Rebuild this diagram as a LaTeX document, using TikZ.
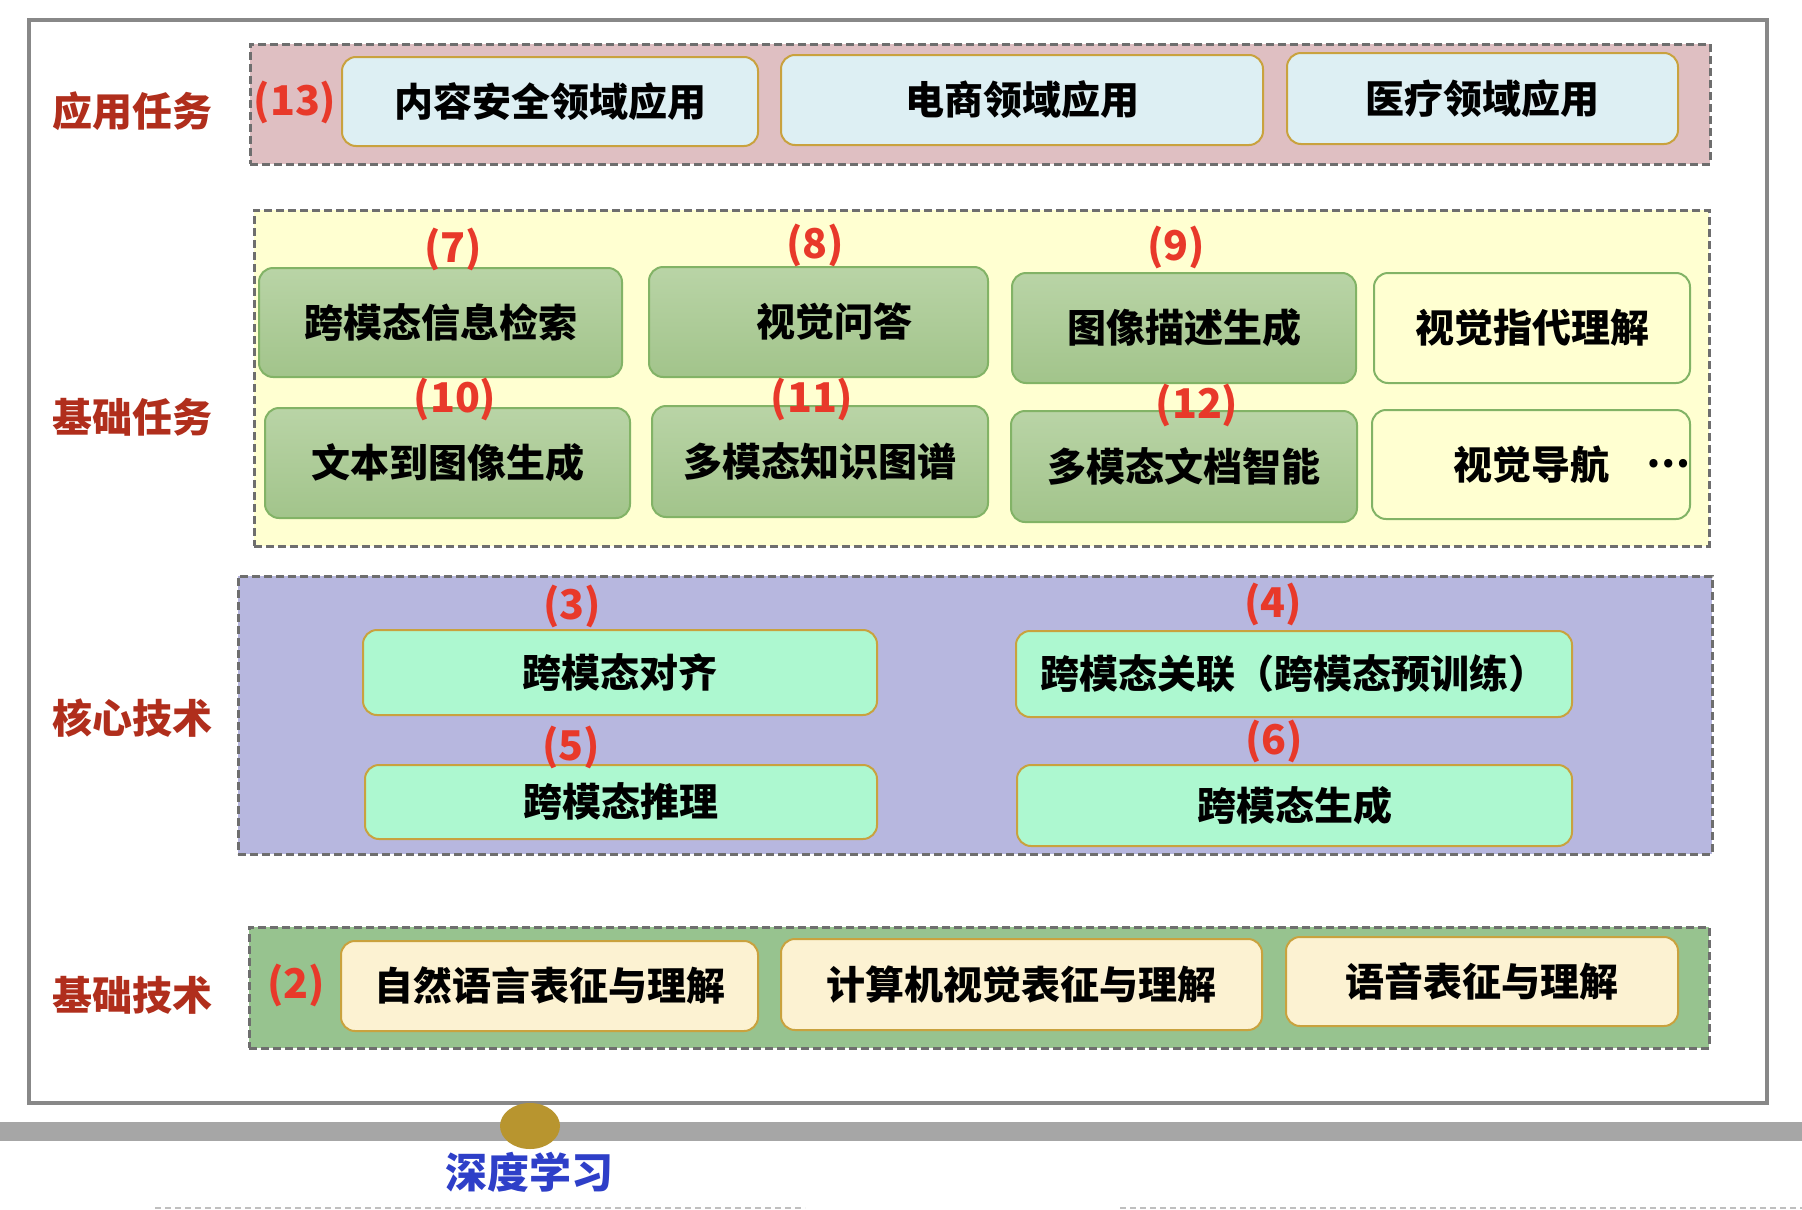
\documentclass[tikz,border=0pt]{standalone}
\usepackage{fontspec}
\setmainfont{Noto Sans CJK SC}
\definecolor{framegray}{HTML}{888888}
\definecolor{dashgray}{HTML}{6E6E6E}
\definecolor{rose}{HTML}{DFBFC2}
\definecolor{ice}{HTML}{DDEFF3}
\definecolor{brass}{HTML}{C9A23E}
\definecolor{cream}{HTML}{FFFFD1}
\definecolor{sagetop}{HTML}{B9D4A6}
\definecolor{sagebot}{HTML}{A2C48B}
\definecolor{leaf}{HTML}{82B366}
\definecolor{lilac}{HTML}{B7B7DF}
\definecolor{mint}{HTML}{ADF8D0}
\definecolor{moss}{HTML}{97C38F}
\definecolor{wheat}{HTML}{FCF2D2}
\definecolor{brick}{HTML}{B02E1C}
\definecolor{scarlet}{HTML}{E8392A}
\definecolor{royal}{HTML}{2E3FC8}
\definecolor{bargray}{HTML}{A6A6A6}
\definecolor{olive}{HTML}{B8952F}
\newcommand\bxfont{\fontsize{39}{43}\selectfont\bfseries}
\newcommand\lbfont{\fontsize{40}{44}\selectfont\bfseries}

\begin{document}
\begin{tikzpicture}[x=1pt, y=-1pt,
    wh/.style n args={2}{minimum width=#1pt, minimum height=#2pt},
    layer/.style={draw=dashgray, line width=3pt, dash pattern=on 8pt off 4pt, inner sep=0pt},
    box/.style={rounded corners=14pt, line width=2pt, inner sep=0pt, font=\bxfont},
    appbox/.style={box, draw=brass, fill=ice},
    taskbox/.style={box, draw=leaf, top color=sagetop, bottom color=sagebot},
    plainbox/.style={box, draw=leaf, fill=cream},
    corebox/.style={box, draw=brass, fill=mint},
    basebox/.style={box, draw=brass, fill=wheat},
    side/.style={text=brick, font=\lbfont},
    num/.style={text=scarlet, font=\fontsize{41}{44}\selectfont\bfseries, inner sep=0pt}]
  \useasboundingbox (0,0) rectangle (1802,1210);
  \fill[white] (0,0) rectangle (1802,1210);
  \draw[framegray, line width=4pt] (29,20) rectangle (1767,1103);

  \node[side] (s1) at (132,111) {应用任务};
  \node[side] (s2) at (132,417) {基础任务};
  \node[side] (s3) at (132,718) {核心技术};
  \node[side] (s4) at (132,995) {基础技术};

  \node[layer, fill=rose, wh={1460}{120}] (l1) at (980,104) {};
  \node[num] (n13) at (295,102) {(13)};
  \node[appbox, wh={416}{89}] (a1) at (550,101.5) {内容安全领域应用};
  \node[appbox, wh={482}{90}] (a2) at (1022,100) {电商领域应用};
  \node[appbox, wh={391}{91}] (a3) at (1482.5,98.5) {医疗领域应用};

  \node[layer, fill=cream, wh={1455}{336}] (l2) at (981.5,378) {};
  \node[taskbox, wh={363}{109}] (b1) at (440.5,322.5) {跨模态信息检索};
  \node[taskbox, wh={339}{110}] (b2) at (818.5,322) {\hspace*{32pt}视觉问答};
  \node[taskbox, wh={344}{110}] (b3) at (1184,328) {图像描述生成};
  \node[plainbox, wh={316}{110}] (b4) at (1532,328) {视觉指代理解};
  \node[taskbox, wh={365}{110}] (b5) at (447.5,463) {文本到图像生成};
  \node[taskbox, wh={336}{111}] (b6) at (820,461.5) {多模态知识图谱};
  \node[taskbox, wh={346}{111}] (b7) at (1184,466.5) {多模态文档智能};
  \node[plainbox, wh={318}{109}] (b8) at (1531,464.5) {视觉导航};
  \node[font=\bxfont] (dots) at (1668,464) {⋯};
  \node[num] (n7) at (453,249) {(7)};
  \node[num] (n8) at (815,245) {(8)};
  \node[num] (n9) at (1176,247) {(9)};
  \node[num] (n10) at (455,399) {(10)};
  \node[num] (n11) at (812,399) {(11)};
  \node[num] (n12) at (1197,405) {(12)};

  \node[layer, fill=lilac, wh={1474}{278}] (l3) at (975,715) {};
  \node[corebox, wh={514}{85}] (c1) at (620,672.5) {跨模态对齐};
  \node[corebox, wh={556}{86}] (c2) at (1294,674) {跨模态关联（跨模态预训练）};
  \node[corebox, wh={512}{74}] (c3) at (621,802) {跨模态推理};
  \node[corebox, wh={555}{81}] (c4) at (1294.5,805.5) {跨模态生成};
  \node[num] (n3) at (572,606) {(3)};
  \node[num] (n4) at (1273,604) {(4)};
  \node[num] (n5) at (571,747) {(5)};
  \node[num] (n6) at (1274,741) {(6)};

  \node[layer, fill=moss, wh={1460}{121}] (l4) at (979,987.5) {};
  \node[num] (n2) at (296,985) {(2)};
  \node[basebox, wh={417}{90}] (d1) at (549.5,986) {自然语言表征与理解};
  \node[basebox, wh={481}{91}] (d2) at (1021.5,984.5) {计算机视觉表征与理解};
  \node[basebox, wh={392}{89}] (d3) at (1482,981.5) {语音表征与理解};

  \fill[bargray] (0,1122) rectangle (1802,1141);
  \fill[olive] (530,1126) ellipse [x radius=30, y radius=23];
  \node[text=royal, font=\fontsize{42}{46}\selectfont\bfseries] (dl) at (529,1172) {深度学习};
  \draw[black!25, line width=1.5pt, dash pattern=on 6pt off 4pt] (155,1208) -- (805,1208);
  \draw[black!25, line width=1.5pt, dash pattern=on 6pt off 4pt] (1120,1208) -- (1802,1208);
\end{tikzpicture}
\end{document}
